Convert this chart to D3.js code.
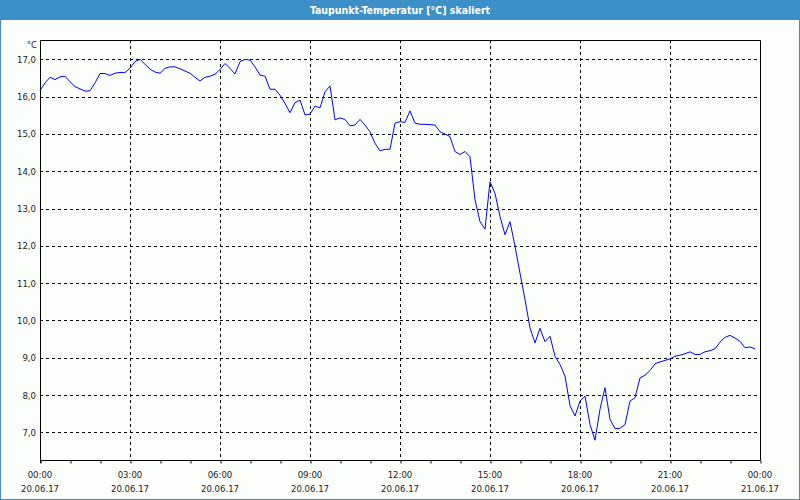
<!DOCTYPE html>
<html>
<head>
<meta charset="utf-8">
<script src="https://cdn.jsdelivr.net/npm/d3@7"></script>
<style>
  html, body { margin: 0; padding: 0; background: #fff; }
  svg { display: block; }
  text { font-family: "DejaVu Sans Condensed", "Liberation Sans", sans-serif; }
</style>
</head>
<body>
<svg id="chart" width="800" height="500"></svg>
<script>
// ---- data ----
const title = "Taupunkt-Temperatur [°C] skaliert";
const unitLabel = "°C";
const startTime = "2017-06-20T00:00:00";
const stepMinutes = 10;
const dewPoint = [
  16.16, 16.37, 16.52, 16.46, 16.53, 16.55, 16.40, 16.27, 16.21, 16.15, 16.16, 16.37,
  16.62, 16.62, 16.57, 16.63, 16.65, 16.65, 16.76, 16.94, 17.00, 16.87, 16.74, 16.66,
  16.63, 16.76, 16.80, 16.80, 16.75, 16.69, 16.63, 16.52, 16.42, 16.52, 16.55, 16.60,
  16.73, 16.89, 16.76, 16.61, 16.94, 17.00, 16.98, 16.80, 16.58, 16.55, 16.20, 16.20,
  16.04, 15.82, 15.57, 15.84, 15.91, 15.51, 15.53, 15.75, 15.70, 16.13, 16.29, 15.38,
  15.43, 15.39, 15.22, 15.24, 15.39, 15.24, 15.06, 14.75, 14.55, 14.59, 14.59, 15.29,
  15.33, 15.31, 15.62, 15.29, 15.26, 15.26, 15.25, 15.24, 15.06, 15.00, 14.93, 14.53,
  14.45, 14.53, 14.39, 13.24, 12.65, 12.45, 13.72, 13.41, 12.79, 12.30, 12.65, 11.99,
  11.27, 10.56, 9.80, 9.40, 9.79, 9.43, 9.58, 9.04, 8.82, 8.51, 7.72, 7.44,
  7.84, 7.97, 7.21, 6.79, 7.62, 8.20, 7.35, 7.10, 7.11, 7.21, 7.84, 7.93,
  8.46, 8.53, 8.66, 8.84, 8.89, 8.93, 8.97, 9.04, 9.07, 9.11, 9.16, 9.09,
  9.09, 9.16, 9.19, 9.24, 9.42, 9.55, 9.60, 9.53, 9.44, 9.27, 9.29, 9.24
];
const yTicks = [7, 8, 9, 10, 11, 12, 13, 14, 15, 16, 17];
const yDomain = [6.26, 17.52];
const xDomain = ["2017-06-20T00:00:00", "2017-06-21T00:00:00"];

// ---- layout ----
const W = 800, H = 500;
const plot = { left: 40, right: 760, top: 40, bottom: 460 };
const svg = d3.select("#chart");

const t0 = new Date(startTime);
const data = dewPoint.map((v, i) => ({ t: d3.timeMinute.offset(t0, i * stepMinutes), v }));

const x = d3.scaleTime().domain(xDomain.map(s => new Date(s))).range([plot.left, plot.right]);
const y = d3.scaleLinear().domain(yDomain).range([plot.bottom, plot.top]);

// background
svg.append("rect").attr("width", W).attr("height", H).attr("fill", "#fcfefc");
// outer border
svg.append("rect").attr("x", 0.5).attr("y", 0.5).attr("width", W - 1).attr("height", H - 1)
  .attr("fill", "none").attr("stroke", "#3c8fc7");
// title bar
svg.append("rect").attr("x", 0).attr("y", 0).attr("width", W).attr("height", 20).attr("fill", "#3c8fc7");
svg.append("text").attr("x", W / 2).attr("y", 14).attr("text-anchor", "middle")
  .attr("fill", "#ffffff").attr("font-size", "10.5px").attr("font-weight", "bold")
  .style("font-family", "'DejaVu Sans Condensed', sans-serif").text(title);

// grid
const fmtY = d3.format(".1f");
const gGrid = svg.append("g");
gGrid.selectAll("line.h").data(yTicks).join("line")
  .attr("x1", plot.left).attr("x2", plot.right)
  .attr("y1", d => Math.round(y(d)) + 0.5).attr("y2", d => Math.round(y(d)) + 0.5)
  .attr("stroke", "#000").attr("stroke-dasharray", "3,3");
const majorTicks = x.ticks(d3.timeHour.every(3));
const minorTicks = x.ticks(d3.timeHour.every(1));
gGrid.selectAll("line.v").data(majorTicks.slice(1, -1)).join("line")
  .attr("x1", d => Math.round(x(d)) + 0.5).attr("x2", d => Math.round(x(d)) + 0.5)
  .attr("y1", plot.top).attr("y2", plot.bottom)
  .attr("stroke", "#000").attr("stroke-dasharray", "3,3");

// frame
svg.append("path")
  .attr("d", `M${plot.left + 0.5},${plot.bottom + 3}V${plot.top + 0.5}H${plot.right + 0.5}V${plot.bottom}`)
  .attr("fill", "none").attr("stroke", "#000");

// x axis
const xAxis = d3.axisBottom(x).tickValues(minorTicks).tickSize(3).tickFormat("");
const gx = svg.append("g").attr("transform", `translate(0.5,${plot.bottom + 0.5})`).call(xAxis);
gx.select(".domain").attr("stroke", "#000").attr("d", `M${plot.left},0H${plot.right}`);
gx.selectAll(".tick line").attr("stroke", "#000");

const fmtTime = d3.timeFormat("%H:%M");
const fmtDate = d3.timeFormat("%d.%m.%y");
const gxl = svg.append("g");
gxl.selectAll("text.t").data(majorTicks).join("text")
  .attr("x", d => x(d)).attr("y", 478).attr("text-anchor", "middle")
  .attr("font-size", "9.5px").attr("fill", "#1a1a1a").text(d => fmtTime(d));
gxl.selectAll("text.d").data(majorTicks).join("text")
  .attr("x", d => x(d)).attr("y", 492).attr("text-anchor", "middle")
  .attr("font-size", "9.5px").attr("fill", "#1a1a1a").text(d => fmtDate(d));

// y labels
const gyl = svg.append("g");
gyl.selectAll("text").data(yTicks).join("text")
  .attr("x", 36).attr("y", d => y(d) + 3.5).attr("text-anchor", "end")
  .attr("font-size", "9.5px").attr("fill", "#1a1a1a").text(d => fmtY(d).replace(".", ","));
svg.append("text").attr("x", 37).attr("y", 48).attr("text-anchor", "end")
  .attr("font-size", "9.5px").attr("fill", "#1a1a1a").text(unitLabel);

// line
const line = d3.line().x(d => x(d.t)).y(d => y(d.v));
svg.append("path").datum(data).attr("d", line)
  .attr("fill", "none").attr("stroke", "#0000ff").attr("stroke-width", 1);
</script>
</body>
</html>
